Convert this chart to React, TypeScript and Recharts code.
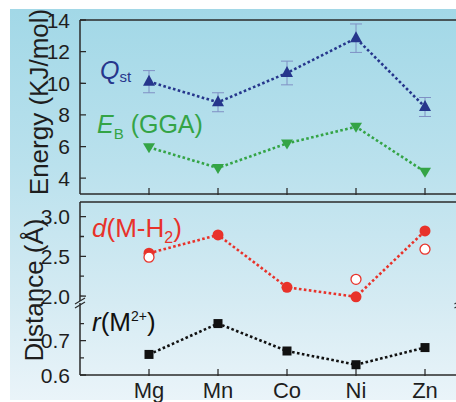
import { LineChart, Line, XAxis, YAxis, ErrorBar, ReferenceDot } from 'recharts';

// values
const metals = ['Mg', 'Mn', 'Co', 'Ni', 'Zn'];
const qst = [10.1, 8.8, 10.65, 12.85, 8.5];
const qstErr = [0.7, 0.6, 0.75, 0.9, 0.6];
const ebGGA = [5.95, 4.65, 6.2, 7.25, 4.4];
const dMH2 = [2.54, 2.77, 2.11, 1.99, 2.82];
const dMH2Open = [2.49, null, null, 2.21, 2.59];
const rM2 = [0.66, 0.75, 0.67, 0.63, 0.68];

const energyTicks = [4, 6, 8, 10, 12, 14];
const distTicks = [2.0, 2.5, 3.0];
const distMinor = [2.25, 2.75];
const radiusTicks = [0.6, 0.7];
const radiusMinor = [0.65, 0.75];
const catTicks = [0, 1, 2, 3, 4];

const rows = metals.map((m, i) => ({
  idx: i,
  name: m,
  qst: qst[i],
  qstErr: qstErr[i],
  eb: ebGGA[i],
  d: dMH2[i],
  dOpen: dMH2Open[i],
  r: rM2[i],
}));

const W = 470;
const Y_W = 80;
const M_RIGHT = 10.5;
const PLOT_W = W - Y_W - M_RIGHT;
const X_DOMAIN: [number, number] = [-1, 4.5];
const E_DOMAIN: [number, number] = [3, 14];
const D_DOMAIN: [number, number] = [1.912, 3.185];
const R_DOMAIN: [number, number] = [0.6, 0.81];
const AXIS = '#2a2a2a';
const TICK_FONT = "'Liberation Sans Narrow', 'Liberation Sans', Arial, sans-serif";
const FONT = "'Liberation Sans', Arial, sans-serif";
const Z = { zIndex: 1500 } as any;

const BLUE = '#26368c';
const GREEN = '#34a446';
const RED = '#e8322a';
const BLACK = '#111111';

const ink = { stroke: AXIS, strokeWidth: 1.5, fill: 'none' };

// frame edges, starting at a scaled corner of the plot
const edge = (dx: number, dy: number) => (p: any) => (
  <path d={`M${p.cx},${p.cy}l${dx},${dy}`} style={ink} />
);

// y tick mark + label, drawn at the scaled tick position
const yTickShape = (label: string | null) => (p: any) => (
  <g>
    <path d={`M${p.cx},${p.cy}l${label ? 6 : 4},0.01`} style={{ ...ink, strokeWidth: 1.3 }} />
    {label && (
      <text x={p.cx - 10} y={p.cy} dy="0.36em" textAnchor="end" fontSize={21} fontFamily={TICK_FONT} fill="#1e1e1e">
        {label}
      </text>
    )}
  </g>
);
const xTickShape = (p: any) => <path d={`M${p.cx},${p.cy + 1}l0.01,-7`} style={{ ...ink, strokeWidth: 1.3 }} />;

function XLabel(props: any) {
  const { payload } = props;
  return (
    <text x={Number(props.x)} y={Number(props.y)} dy="0.71em" textAnchor="middle" fontSize={22} fontFamily={TICK_FONT} fill="#1e1e1e">
      {metals[payload.value]}
    </text>
  );
}

const triUp = (p: any) =>
  p.cx == null || p.cy == null ? <g key={p.index} /> : (
    <path key={p.index} d={`M${p.cx},${p.cy - 7} L${p.cx + 6},${p.cy + 4} L${p.cx - 6},${p.cy + 4} Z`} fill={BLUE} />
  );
const triDown = (p: any) =>
  p.cx == null || p.cy == null ? <g key={p.index} /> : (
    <path key={p.index} d={`M${p.cx},${p.cy + 6} L${p.cx + 6},${p.cy - 4} L${p.cx - 6},${p.cy - 4} Z`} fill={GREEN} />
  );
const fullCircle = (p: any) =>
  p.cx == null || p.cy == null ? <g key={p.index} /> : <circle key={p.index} cx={p.cx} cy={p.cy} r={5.5} fill={RED} />;
const openCircle = (p: any) =>
  p.cx == null || p.cy == null || p.value == null ? <g key={p.index} /> : (
    <circle key={p.index} cx={p.cx} cy={p.cy} r={5} fill="#fff" stroke={RED} strokeWidth={1.3} />
  );
const square = (p: any) =>
  p.cx == null || p.cy == null ? <g key={p.index} /> : (
    <rect key={p.index} x={p.cx - 4.5} y={p.cy - 4.5} width={9} height={9} fill={BLACK} />
  );

const BreakMark = (p: any) => (
  <g>
    <polygon points={`${p.cx - 5},${p.cy + 1} ${p.cx + 5},${p.cy - 5} ${p.cx + 5},${p.cy - 1} ${p.cx - 5},${p.cy + 5}`} fill="#d6ecf4" />
    <path d={`M${p.cx - 5},${p.cy + 1}L${p.cx + 5},${p.cy - 5}M${p.cx - 5},${p.cy + 5}L${p.cx + 5},${p.cy - 1}`} style={{ stroke: AXIS, strokeWidth: 1.2 }} />
  </g>
);

const dotted = { strokeWidth: 2.6, strokeDasharray: '2.6 2.4', type: 'linear' as const };
const at = (top: number) => ({ position: 'absolute' as const, left: 0, top });

function yTicks(major: number[], minor: number[], digits: number) {
  return [
    ...major.map((t) => (
      <ReferenceDot key={`M${t}`} {...Z} x={X_DOMAIN[0]} y={t} r={0} ifOverflow="visible" shape={yTickShape(t.toFixed(digits))} />
    )),
    ...minor.map((t) => <ReferenceDot key={`m${t}`} {...Z} x={X_DOMAIN[0]} y={t} r={0} ifOverflow="visible" shape={yTickShape(null)} />),
  ];
}
const xTicks = (yBase: number) =>
  catTicks.map((c) => <ReferenceDot key={`x${c}`} {...Z} x={c} y={yBase} r={0} ifOverflow="visible" shape={xTickShape} />);

export default function App() {
  return (
    <div style={{ position: 'absolute', left: 0, top: 0, width: 456, height: 402, overflow: 'hidden', background: '#fff', fontFamily: FONT }}>
      <div
        style={{
          position: 'absolute',
          left: 10,
          top: 9,
          width: 446,
          height: 391,
          background: 'linear-gradient(to bottom, #a2d8e7 0%, #bae1ed 40%, #d5ebf3 75%, #eaf4f9 100%)',
        }}
      />

      {/* energy panel: plot 20..194 */}
      <div style={at(0)}>
        <LineChart width={W} height={198} data={rows} margin={{ top: 20, right: M_RIGHT, bottom: 4, left: Y_W }}>
          <XAxis dataKey="idx" type="number" domain={X_DOMAIN} hide />
          <YAxis domain={E_DOMAIN} allowDataOverflow hide />
          <Line dataKey="qst" stroke={BLUE} {...dotted} dot={triUp} activeDot={false} isAnimationActive={false}>
            <ErrorBar dataKey="qstErr" direction="y" width={6} stroke="#7f90c4" strokeWidth={1} />
          </Line>
          <Line dataKey="eb" stroke={GREEN} {...dotted} dot={triDown} activeDot={false} isAnimationActive={false} />
          <ReferenceDot {...Z} x={X_DOMAIN[0]} y={E_DOMAIN[1]} r={0} ifOverflow="visible" shape={edge(0, 174)} />
          <ReferenceDot {...Z} x={X_DOMAIN[0]} y={E_DOMAIN[1]} r={0} ifOverflow="visible" shape={edge(PLOT_W, 0)} />
          <ReferenceDot {...Z} x={X_DOMAIN[0]} y={E_DOMAIN[0]} r={0} ifOverflow="visible" shape={edge(PLOT_W, 0)} />
          {yTicks(energyTicks, [], 0)}
          {xTicks(E_DOMAIN[0])}
        </LineChart>
      </div>

      {/* distance panel, upper segment: plot 202..303 */}
      <div style={at(198)}>
        <LineChart width={W} height={112} data={rows} margin={{ top: 4, right: M_RIGHT, bottom: 7, left: Y_W }}>
          <XAxis dataKey="idx" type="number" domain={X_DOMAIN} hide />
          <YAxis domain={D_DOMAIN} allowDataOverflow hide />
          <Line dataKey="d" stroke={RED} {...dotted} dot={fullCircle} activeDot={false} isAnimationActive={false} />
          <Line dataKey="dOpen" stroke="none" dot={openCircle} activeDot={false} isAnimationActive={false} />
          <ReferenceDot {...Z} x={X_DOMAIN[0]} y={D_DOMAIN[1]} r={0} ifOverflow="visible" shape={edge(0, 101)} />
          <ReferenceDot {...Z} x={X_DOMAIN[0]} y={D_DOMAIN[1]} r={0} ifOverflow="visible" shape={edge(PLOT_W, 0)} />
          {yTicks(distTicks, distMinor, 1)}
          <ReferenceDot {...Z} x={X_DOMAIN[0]} y={D_DOMAIN[0]} ifOverflow="visible" shape={BreakMark} />
          <ReferenceDot {...Z} x={X_DOMAIN[1]} y={D_DOMAIN[0]} ifOverflow="visible" shape={BreakMark} />
        </LineChart>
      </div>

      {/* distance panel, lower segment: plot 303..375 */}
      <div style={at(300)}>
        <LineChart width={W} height={102} data={rows} margin={{ top: 3, right: M_RIGHT, bottom: 26, left: Y_W }}>
          <XAxis dataKey="idx" type="number" domain={X_DOMAIN} ticks={catTicks} interval={0} height={1} tickSize={0} tickMargin={7} tickLine={false} axisLine={false} tick={(p: any) => <XLabel {...p} />} />
          <YAxis domain={R_DOMAIN} allowDataOverflow hide />
          <Line dataKey="r" stroke={BLACK} {...dotted} dot={square} activeDot={false} isAnimationActive={false} />
          <ReferenceDot {...Z} x={X_DOMAIN[0]} y={R_DOMAIN[0]} r={0} ifOverflow="visible" shape={edge(0, -72)} />
          <ReferenceDot {...Z} x={X_DOMAIN[0]} y={R_DOMAIN[0]} r={0} ifOverflow="visible" shape={edge(PLOT_W, 0)} />
          {yTicks(radiusTicks, radiusMinor, 1)}
          {xTicks(R_DOMAIN[0])}
        </LineChart>
      </div>

      {/* titles and series labels */}
      <svg width={456} height={402} style={{ ...at(0), pointerEvents: 'none' }}>
        <text x={48} y={102} transform="rotate(-90 48 102)" textAnchor="middle" fontSize={26} fill="#1e1e1e">
          Energy (KJ/mol)
        </text>
        <text x={43} y={290} transform="rotate(-90 43 290)" textAnchor="middle" fontSize={26} fill="#1e1e1e">
          Distance (Å)
        </text>
        <text x={100} y={79} fontSize={25} fill={BLUE}>
          <tspan fontStyle="italic">Q</tspan>
          <tspan fontSize={15} dy={3}>st</tspan>
        </text>
        <text x={97} y={133} fontSize={25} fill={GREEN}>
          <tspan fontStyle="italic">E</tspan>
          <tspan fontSize={15} dy={6}>B</tspan>
          <tspan dy={-6}> (GGA)</tspan>
        </text>
        <text x={92} y={237} fontSize={26} fill={RED}>
          <tspan fontStyle="italic">d</tspan>
          <tspan>(M-H</tspan>
          <tspan fontSize={16} dy={6}>2</tspan>
          <tspan dy={-6}>)</tspan>
        </text>
        <text x={92} y={331} fontSize={26} fill={BLACK}>
          <tspan fontStyle="italic">r</tspan>
          <tspan>(M</tspan>
          <tspan fontSize={14} dy={-10}>2+</tspan>
          <tspan dy={10}>)</tspan>
        </text>
      </svg>
    </div>
  );
}
